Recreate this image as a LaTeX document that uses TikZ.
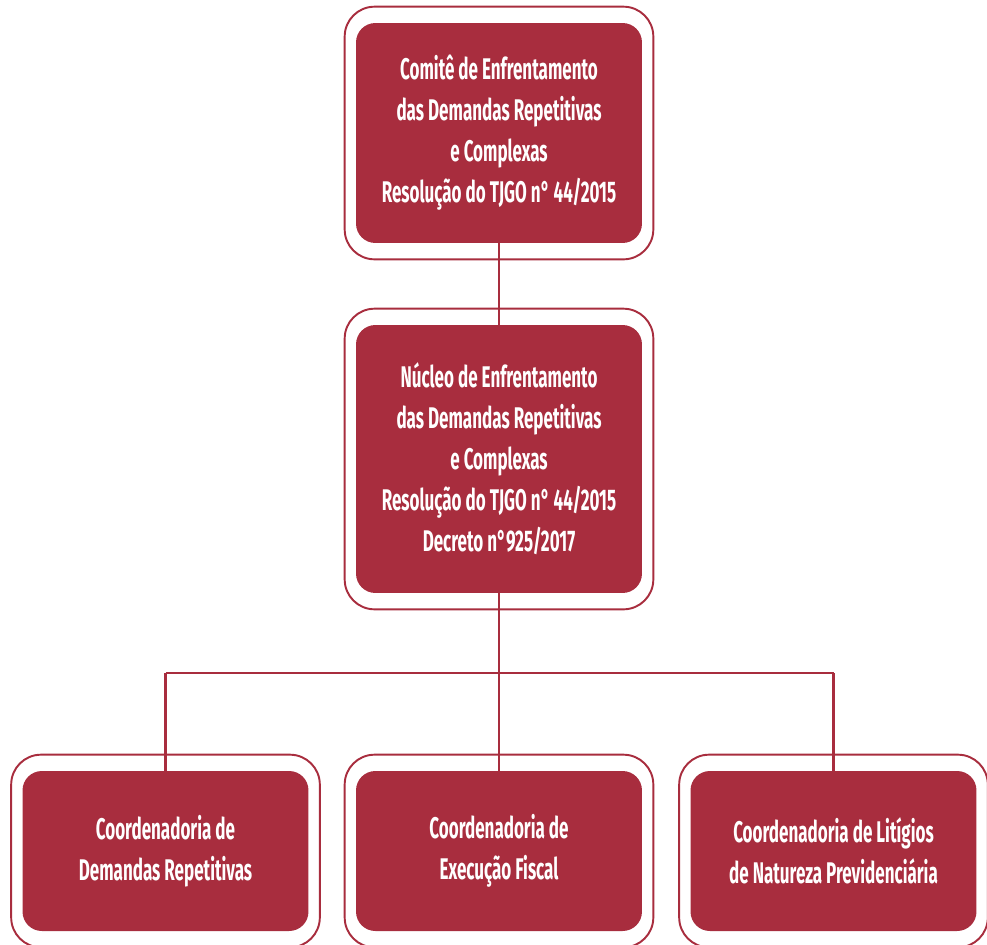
\documentclass[tikz,border=0pt]{standalone}
\usepackage{fontspec}
\setmainfont{Fira Sans}[FakeStretch=0.57]
\usetikzlibrary{fit,calc}
\definecolor{vinho}{RGB}{168,45,62}

\tikzset{
  orgbox/.style={fill=vinho, rounded corners=11pt, text=white, align=center,
    font=\fontsize{17}{23.3}\selectfont\bfseries, minimum width=5.72cm, inner sep=0pt},
  moldura/.style={draw=vinho, line width=1.1pt, rounded corners=17pt,
    inner xsep=0.22cm, inner ysep=0.32cm},
  liga/.style={draw=vinho, line width=1.6pt}
}

\begin{document}
\begin{tikzpicture}[x=0.02cm, y=-0.02cm]
\useasboundingbox (0,0) rectangle (987,944);

\node[orgbox, minimum height=4.4cm] (comite) at (499,133)
  {Comitê de Enfrentamento\\das Demandas Repetitivas\\e Complexas\\Resolução do TJGO n° 44/2015};
\node[orgbox, minimum height=5.36cm] (nucleo) at (499,459)
  {Núcleo de Enfrentamento\\das Demandas Repetitivas\\e Complexas\\Resolução do TJGO n° 44/2015\\Decreto n°925/2017};

\node[orgbox, minimum height=3.2cm] (repet) at (165.5,851) {Coordenadoria de\\Demandas Repetitivas};
\node[orgbox, minimum height=3.2cm] (fiscal) at (499,851) {Coordenadoria de\\Execução Fiscal};
\node[orgbox, minimum height=3.2cm] (prev) at (833.5,851) {Coordenadoria de Litígios\\de Natureza Previdenciária};

% molduras
\foreach \n in {comite,nucleo,repet,fiscal,prev}
{ \node[moldura, fit=(\n)] (\n-m) {}; }

% ligacoes
\coordinate (juncao) at (nucleo.south |- 0,673);
\draw[liga] (comite.south) -- (nucleo.north);
\draw[liga] (nucleo.south) -- (juncao);
\draw[liga] (repet.north |- juncao) -- (prev.north |- juncao);
\foreach \b in {repet,fiscal,prev}
{ \draw[liga] (\b.north |- juncao) -- (\b.north); }

\end{tikzpicture}
\end{document}
